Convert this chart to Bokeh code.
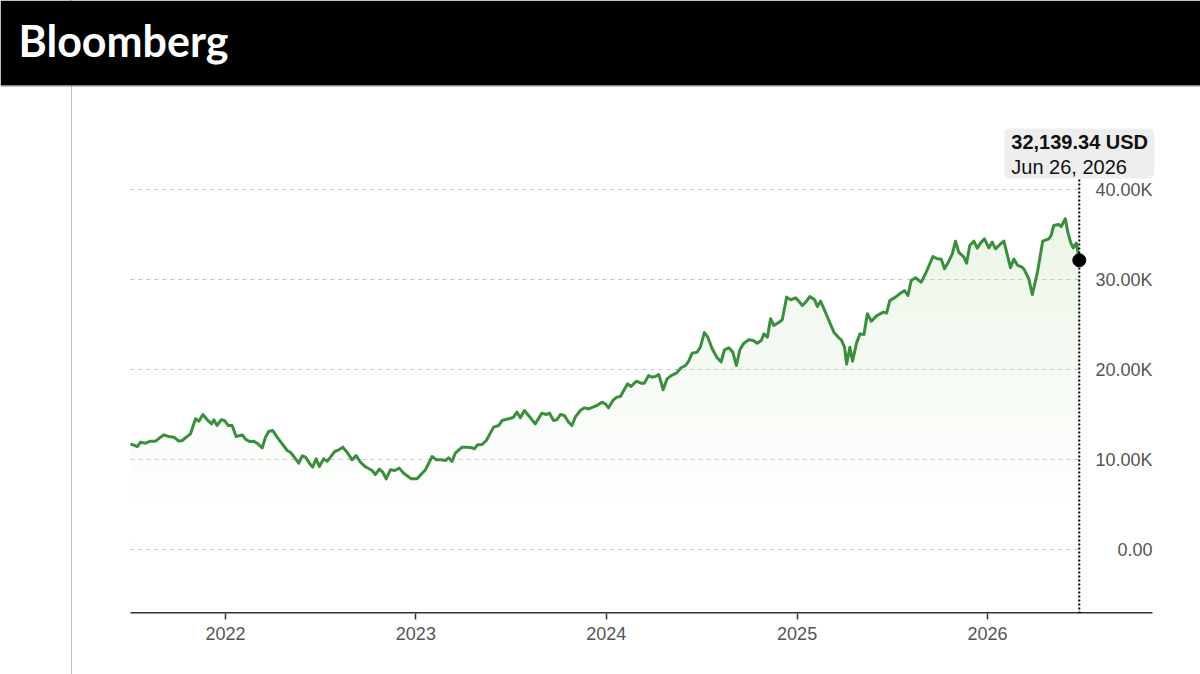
import numpy as np
import pandas as pd
from bokeh.plotting import figure
from bokeh.models import (Range1d, BoxAnnotation, Span, Label, FixedTicker,
                          DatetimeTickFormatter)
from bokeh.core.properties import value
from bokeh.embed import file_html
from bokeh.resources import INLINE

# ---------------- data ----------------
t_years = [
    2021.501, 2021.537, 2021.554, 2021.580, 2021.606, 2021.633, 2021.659, 2021.676, 2021.702, 2021.729,
    2021.755, 2021.773, 2021.799, 2021.816, 2021.843, 2021.860, 2021.881, 2021.904, 2021.927, 2021.939,
    2021.956, 2021.977, 2021.995, 2022.014, 2022.035, 2022.056, 2022.088, 2022.105, 2022.126, 2022.149,
    2022.166, 2022.193, 2022.210, 2022.227, 2022.248, 2022.271, 2022.298, 2022.324, 2022.341, 2022.359,
    2022.385, 2022.403, 2022.420, 2022.441, 2022.458, 2022.476, 2022.493, 2022.516, 2022.534, 2022.551,
    2022.574, 2022.595, 2022.616, 2022.639, 2022.665, 2022.686, 2022.709, 2022.735, 2022.770, 2022.787,
    2022.808, 2022.826, 2022.844, 2022.866, 2022.889, 2022.913, 2022.936, 2022.976, 2023.006, 2023.033,
    2023.050, 2023.085, 2023.108, 2023.138, 2023.155, 2023.172, 2023.190, 2023.207, 2023.243, 2023.269,
    2023.295, 2023.307, 2023.324, 2023.348, 2023.370, 2023.391, 2023.408, 2023.435, 2023.453, 2023.487,
    2023.513, 2023.531, 2023.549, 2023.570, 2023.592, 2023.627, 2023.662, 2023.685, 2023.702, 2023.723,
    2023.741, 2023.759, 2023.780, 2023.802, 2023.820, 2023.837, 2023.864, 2023.885, 2023.907, 2023.930,
    2023.951, 2023.977, 2023.995, 2024.012, 2024.035, 2024.056, 2024.074, 2024.094, 2024.112, 2024.130,
    2024.157, 2024.182, 2024.199, 2024.222, 2024.240, 2024.257, 2024.275, 2024.287, 2024.298, 2024.319,
    2024.340, 2024.367, 2024.392, 2024.415, 2024.432, 2024.450, 2024.476, 2024.493, 2024.514, 2024.532,
    2024.555, 2024.581, 2024.602, 2024.619, 2024.642, 2024.663, 2024.682, 2024.700, 2024.721, 2024.747,
    2024.770, 2024.791, 2024.812, 2024.826, 2024.844, 2024.861, 2024.878, 2024.905, 2024.922, 2024.945,
    2024.966, 2024.992, 2025.009, 2025.027, 2025.045, 2025.067, 2025.092, 2025.106, 2025.123, 2025.141,
    2025.167, 2025.193, 2025.219, 2025.232, 2025.249, 2025.260, 2025.277, 2025.291, 2025.312, 2025.330,
    2025.351, 2025.369, 2025.390, 2025.417, 2025.453, 2025.470, 2025.487, 2025.517, 2025.543, 2025.564,
    2025.582, 2025.599, 2025.622, 2025.652, 2025.678, 2025.713, 2025.736, 2025.757, 2025.774, 2025.797,
    2025.815, 2025.832, 2025.849, 2025.876, 2025.890, 2025.907, 2025.928, 2025.946, 2025.963, 2025.984,
    2026.007, 2026.025, 2026.042, 2026.065, 2026.086, 2026.121, 2026.138, 2026.159, 2026.182, 2026.194,
    2026.217, 2026.235, 2026.252, 2026.264, 2026.290, 2026.322, 2026.334, 2026.348, 2026.374, 2026.387,
    2026.409, 2026.422, 2026.436, 2026.450, 2026.467,
]
values_k = [
    11.74, 11.44, 11.93, 11.81, 12.04, 12.04, 12.48, 12.74, 12.56, 12.48,
    12.04, 12.11, 12.56, 12.85, 14.52, 14.26, 15.00, 14.41, 13.96, 14.41,
    13.78, 14.41, 14.33, 13.78, 13.78, 12.56, 12.74, 12.26, 12.00, 12.04,
    11.81, 11.30, 12.48, 13.11, 13.22, 12.48, 11.74, 11.00, 10.81, 10.33,
    9.59, 10.41, 10.26, 9.59, 9.15, 10.07, 9.22, 10.07, 9.81, 10.26,
    10.89, 11.07, 11.37, 10.81, 9.96, 10.44, 9.70, 9.19, 8.78, 8.33,
    8.93, 8.59, 7.85, 8.85, 8.78, 9.04, 8.48, 7.85, 7.85, 8.48,
    8.85, 10.33, 9.96, 9.96, 9.89, 10.19, 9.78, 10.70, 11.37, 11.37,
    11.30, 11.19, 11.63, 11.67, 12.11, 12.93, 13.59, 13.78, 14.33, 14.52,
    14.70, 15.26, 14.63, 15.44, 14.89, 13.96, 15.15, 15.00, 15.15, 14.33,
    14.41, 15.00, 14.89, 14.15, 13.78, 14.70, 15.44, 15.74, 15.63, 15.81,
    16.00, 16.37, 16.19, 15.74, 16.56, 16.93, 17.00, 17.74, 18.41, 18.11,
    18.70, 18.48, 18.48, 19.33, 19.15, 19.22, 19.44, 18.59, 17.74, 18.96,
    19.33, 19.59, 20.19, 20.44, 20.93, 21.81, 21.93, 22.48, 24.10, 23.59,
    22.30, 21.30, 20.85, 22.19, 22.41, 21.93, 20.44, 22.19, 22.93, 23.30,
    23.22, 22.93, 23.22, 23.96, 23.59, 25.63, 24.89, 25.26, 25.52, 28.04,
    27.74, 27.96, 27.59, 27.11, 27.48, 28.11, 27.74, 27.00, 27.59, 26.74,
    25.44, 24.15, 23.52, 23.30, 22.48, 20.60, 22.48, 20.93, 22.93, 23.96,
    23.89, 26.19, 25.37, 25.96, 26.37, 26.26, 27.67, 28.04, 28.48, 28.78,
    28.22, 29.89, 30.19, 29.70, 30.81, 32.56, 32.30, 32.26, 31.19, 32.04,
    32.85, 34.26, 33.04, 32.48, 31.81, 33.78, 34.26, 33.48, 34.04, 34.52,
    33.52, 34.15, 33.41, 33.89, 34.26, 31.30, 32.26, 31.56, 31.37, 31.07,
    30.07, 28.33, 29.81, 31.00, 34.26, 34.52, 34.89, 36.00, 36.11, 35.89,
    36.74, 35.26, 34.15, 33.52, 34.04,
]
last_date = "2026-06-26"
last_value = 32139.34
y_ticks = [0, 10000, 20000, 30000, 40000]
y_tick_labels = ["0.00", "10.00K", "20.00K", "30.00K", "40.00K"]
x_tick_years = [2022, 2023, 2024, 2025, 2026]
header_text = "Bloomberg"
tip_value_text = "32,139.34 USD"
tip_date_text = "Jun 26, 2026"

# ---------------- helpers ----------------
def ms(s):
    return pd.Timestamp(s).value / 1e6

def year_frac_to_ms(t):
    y = int(np.floor(t))
    a = pd.Timestamp(year=y, month=1, day=1)
    b = pd.Timestamp(year=y + 1, month=1, day=1)
    return (a + (b - a) * (t - y)).value / 1e6

xs = np.array([year_frac_to_ms(t) for t in t_years] + [ms(last_date)])
vals = np.array([v * 1000 for v in values_k] + [last_value])
last_ms = ms(last_date)

# ---------------- layout (pixel geometry) ----------------
W, H = 1200, 674
BOTTOM = 61                      # x-axis panel height
FRAME_H = H - BOTTOM             # frame spans 0..613 px
mpp = (ms("2026-01-01") - ms("2022-01-01")) / (987 - 225)   # ms per px
x0 = ms("2022-01-01") - 225 * mpp
x1 = x0 + W * mpp
vpp = 1000 / 9.0                 # value per px
y_end = 549 * vpp
y_start = y_end - FRAME_H * vpp

def px2x(px):
    return x0 + px * mpp

def px2y(py):
    return y_end - py * vpp

GREEN = "#3a8e3d"
FONT = "Liberation Sans"

p = figure(width=W, height=H, x_axis_type="datetime", y_axis_location=None,
           x_range=Range1d(x0, x1), y_range=Range1d(y_start, y_end),
           min_border=0, min_border_left=0, min_border_right=0, min_border_top=0,
           min_border_bottom=BOTTOM, toolbar_location=None, output_backend="svg",
           title_location=None, outline_line_color=None,
           background_fill_color=None, border_fill_color=None)
# page background with the thin left vertical rule (shows through transparent canvas)
p.styles = {"background-color": "white",
            "background-image": "linear-gradient(to right, transparent 71px, #bdbdbd 71px, "
                                "#bdbdbd 72.5px, transparent 72.5px)"}
p.grid.grid_line_color = None

# gradient-like area fill: opaque bands painted from darkest (top) down
fill_lo, fill_hi = 4000, 37000
c_top = np.array([236, 246, 232])
c_white = np.array([255, 255, 255])
levels = np.arange(fill_hi, fill_lo, -1000)
for i, L in enumerate(levels):
    f = (L - fill_lo) / (fill_hi - fill_lo)
    c = np.round(c_white + (c_top - c_white) * f).astype(int)
    col = "#%02x%02x%02x" % tuple(c)
    top = vals if i == 0 else np.minimum(vals, L)
    p.varea(x=xs, y1=fill_lo - 3000, y2=top, fill_color=col, fill_alpha=1.0)

# horizontal dashed gridlines
p.segment(x0=xs[0], y0=y_ticks, x1=last_ms, y1=y_ticks,
          line_color="#c9c9c9", line_width=1, line_dash="4 4")

# y tick labels (right side, right-aligned)
p.text(x=[px2x(1152)] * len(y_ticks), y=y_ticks, text=y_tick_labels,
       text_align="right", text_baseline="middle",
       text_font=value(FONT), text_font_size="18px", text_color="#555555")

# x axis line
p.segment(x0=xs[0], y0=y_start, x1=px2x(1152), y1=y_start,
          line_color="#333333", line_width=3)

# price line
p.line(xs, vals, line_color=GREEN, line_width=3, line_join="round")

# dotted crosshair
p.segment(x0=last_ms, y0=y_start, x1=last_ms, y1=px2y(178),
          line_color="black", line_width=2, line_dash="2 2")
p.scatter(x=[last_ms], y=[last_value], size=13, color="black")

# tooltip box
tip = BoxAnnotation(left=last_ms - 75 * mpp, right=last_ms + 75 * mpp,
                    top=px2y(128), bottom=px2y(178),
                    fill_color="#eeeeee", fill_alpha=1.0, line_color=None,
                    border_radius=6)
p.add_layout(tip)
p.add_layout(Label(x=last_ms - 68 * mpp, y=px2y(141.5), text=tip_value_text,
                   text_font=FONT, text_font_style="bold", text_font_size="20px",
                   text_color="#111111", text_baseline="middle"))
p.add_layout(Label(x=last_ms - 68 * mpp, y=px2y(166), text=tip_date_text,
                   text_font=FONT, text_font_size="20px",
                   text_color="#111111", text_baseline="middle"))

# header band
p.add_layout(BoxAnnotation(left=x0, right=x1, top=y_end, bottom=px2y(85),
                           fill_color="black", fill_alpha=1.0, line_color=None))
p.add_layout(Span(location=px2y(85.5), dimension="width",
                  line_color="#8a8a8a", line_width=1))
p.add_layout(Label(x=px2x(18), y=px2y(40), text=header_text, text_font="Lato",
                   text_font_style="bold", text_font_size="43px",
                   text_color="white", text_baseline="middle"))

# x axis
ax = p.xaxis[0]
ax.ticker = FixedTicker(ticks=[ms(f"{y}-01-01") for y in x_tick_years])
fmt = "%Y"
ax.formatter = DatetimeTickFormatter(microseconds=fmt, milliseconds=fmt, seconds=fmt,
                                     minsec=fmt, minutes=fmt, hourmin=fmt, hours=fmt,
                                     days=fmt, months=fmt, years=fmt)
ax.axis_line_color = None
ax.major_tick_line_color = "#333333"
ax.major_tick_line_width = 1.5
ax.major_tick_in = 0
ax.major_tick_out = 6
ax.minor_tick_line_color = None
ax.major_label_standoff = 7
ax.major_label_text_font = FONT
ax.major_label_text_font_size = "18px"
ax.major_label_text_color = "#555555"

open("out.html", "w").write(file_html(p, INLINE))
